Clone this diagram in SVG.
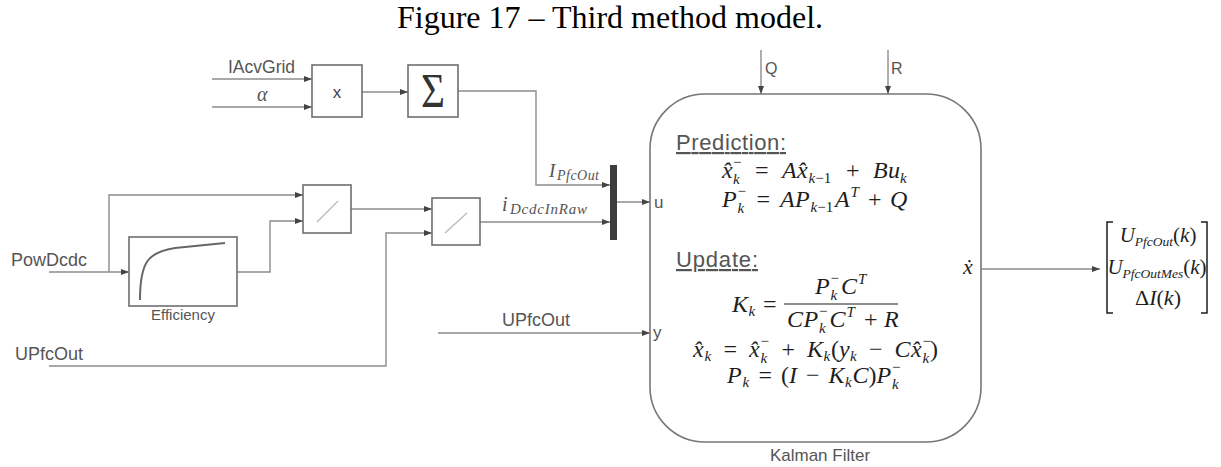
<svg xmlns="http://www.w3.org/2000/svg" width="1221" height="467" viewBox="0 0 1221 467">
  <style>
    .wire { fill: none; stroke: #8c8c8c; stroke-width: 1.4; marker-end: url(#arr); }
    .box { fill: #ffffff; stroke: #6e6e6e; stroke-width: 1.6; }
    .diag { stroke: #bdbdbd; stroke-width: 1.5; }
    .lbl { font-family: "Liberation Sans", Arial, sans-serif; fill: #555555; }
    .m { font-family: "Liberation Serif", "Times New Roman", serif; font-style: italic; fill: #1e1e1e; font-size: 24px; }
    .u { font-style: normal; }
    .s { font-size: 15px; }
    .title { font-family: "Liberation Serif", "Times New Roman", serif; font-size: 32px; fill: #000; }
  </style>
  <defs>
    <marker id="arr" viewBox="0 0 8 6" refX="8" refY="3" markerWidth="8" markerHeight="6" orient="auto" markerUnits="userSpaceOnUse">
      <path d="M0,0 L8,3 L0,6 z" fill="#444"/>
    </marker>
  </defs>

  <text class="title" x="610" y="28" text-anchor="middle">Figure 17 – Third method model.</text>

  <!-- signal lines -->
  <g id="connectors">
    <path class="wire" d="M212,79 H312"/>
    <path class="wire" d="M212,107 H312"/>
    <path class="wire" d="M362,92 H408"/>
    <path class="wire" d="M458,91 H536 V185 H610"/>
    <path class="wire" d="M49,272 H129"/>
    <path class="wire" d="M109,272 V195 H303"/>
    <path class="wire" d="M237,272 H270 V221 H303"/>
    <path class="wire" d="M351,209 H432"/>
    <path class="wire" d="M49,366 H386 V233 H432"/>
    <path class="wire" d="M480,222 H610"/>
    <path class="wire" d="M617,202 H650"/>
    <path class="wire" d="M438,333 H650"/>
    <path class="wire" d="M761,50 V94"/>
    <path class="wire" d="M888,50 V94"/>
    <path class="wire" d="M981,269 H1100"/>
  </g>

  <!-- input labels -->
  <g id="inputs">
    <text class="lbl" x="228" y="73" style="font-size:17.5px">IAcvGrid</text>
    <text x="257" y="101" style="font-family:'Liberation Serif',serif;font-style:italic;font-size:20px" fill="#555">α</text>
    <text class="lbl" x="11" y="266" style="font-size:18px">PowDcdc</text>
    <text class="lbl" x="15" y="360" style="font-size:18px">UPfcOut</text>
    <text class="lbl" x="502" y="326" style="font-size:18px">UPfcOut</text>
    <text class="lbl" x="765" y="74" style="font-size:16px">Q</text>
    <text class="lbl" x="891" y="74" style="font-size:16px">R</text>
  </g>

  <g id="mult">
    <rect class="box" x="312" y="65" width="50" height="52"/>
    <text class="lbl" x="337" y="98" text-anchor="middle" style="font-size:17px;fill:#444">x</text>
  </g>

  <g id="sum">
    <rect class="box" x="408" y="65" width="50" height="52"/>
    <text x="421" y="107" style="font-family:'Liberation Serif',serif;font-size:49px" fill="#333" textLength="24" lengthAdjust="spacingAndGlyphs">Σ</text>
  </g>

  <g id="efficiency">
    <rect class="box" x="129" y="237" width="108" height="69"/>
    <path d="M140,300 C140,262 148,252 175,248 L225,243" fill="none" stroke="#666" stroke-width="2"/>
    <text class="lbl" x="183" y="320" text-anchor="middle" style="font-size:15px">Efficiency</text>
  </g>

  <g id="divide1">
    <rect class="box" x="303" y="185" width="48" height="48"/>
    <line class="diag" x1="317" y1="222" x2="338" y2="201"/>
  </g>

  <g id="divide2">
    <rect class="box" x="432" y="198" width="48" height="47"/>
    <line class="diag" x1="445" y1="233" x2="467" y2="213"/>
  </g>

  <g id="mux">
    <rect x="610" y="165" width="7" height="75" fill="#3c3c3c"/>
    <text class="m" x="549" y="177" style="font-size:19px;fill:#555">I</text>
    <text class="m" x="557" y="180" style="font-size:14px;fill:#555" textLength="42">PfcOut</text>
    <text class="m" x="502" y="211" style="font-size:20px;fill:#555">i</text>
    <text class="m" x="510" y="214" style="font-size:15px;fill:#555" textLength="77">DcdcInRaw</text>
  </g>

  <g id="kalman">
    <rect x="650" y="94" width="331" height="348" rx="55" ry="55" fill="#fff" stroke="#777" stroke-width="1.6"/>
    <text class="lbl" x="654" y="208" style="font-size:17px">u</text>
    <text class="lbl" x="653" y="338" style="font-size:17px">y</text>
    <text class="m" x="963" y="274" style="font-size:22px">ẋ</text>

    <text class="lbl" x="676" y="150" style="font-size:22px" textLength="110" text-decoration="underline">Prediction:</text>

    <!-- x^-_k = A x_{k-1} + B u_k -->
    <text class="m" y="178">
      <tspan x="722">x̂</tspan>
      <tspan x="733" y="167" class="s u">−</tspan>
      <tspan x="733" y="184" class="s">k</tspan>
      <tspan x="755" y="178" class="u">=</tspan>
      <tspan x="782">A</tspan>
      <tspan x="797">x̂</tspan>
      <tspan x="808.5" y="183" class="s">k</tspan><tspan class="s u">−1</tspan>
      <tspan x="846" y="178" class="u">+</tspan>
      <tspan x="873">B</tspan>
      <tspan x="888">u</tspan>
      <tspan x="900" y="183" class="s">k</tspan>
    </text>

    <!-- P^-_k = A P_{k-1} A^T + Q -->
    <text class="m" y="207">
      <tspan x="722">P</tspan>
      <tspan x="737.5" y="196" class="s u">−</tspan>
      <tspan x="737.5" y="213" class="s">k</tspan>
      <tspan x="756.5" y="207" class="u">=</tspan>
      <tspan x="780">A</tspan>
      <tspan x="795">P</tspan>
      <tspan x="810.5" y="212" class="s">k</tspan><tspan class="s u">−1</tspan>
      <tspan x="835" y="207">A</tspan>
      <tspan x="850.5" y="197" class="s">T</tspan>
      <tspan x="868" y="207" class="u">+</tspan>
      <tspan x="890">Q</tspan>
    </text>

    <text class="lbl" x="676" y="267" style="font-size:22px" textLength="82" text-decoration="underline">Update:</text>

    <!-- K_k = P^-_k C^T / (C P^-_k C^T + R) -->
    <text class="m" y="312">
      <tspan x="732">K</tspan>
      <tspan x="748.5" y="316" class="s">k</tspan>
      <tspan x="763" y="312" class="u">=</tspan>
    </text>
    <line x1="784" y1="304" x2="898" y2="304" stroke="#1e1e1e" stroke-width="1.2"/>
    <text class="m" y="294">
      <tspan x="815">P</tspan>
      <tspan x="830.5" y="283" class="s u">−</tspan>
      <tspan x="830.5" y="300" class="s">k</tspan>
      <tspan x="841" y="294">C</tspan>
      <tspan x="858" y="284" class="s">T</tspan>
    </text>
    <text class="m" y="327">
      <tspan x="787">C</tspan>
      <tspan x="803.5">P</tspan>
      <tspan x="819" y="316" class="s u">−</tspan>
      <tspan x="819" y="333" class="s">k</tspan>
      <tspan x="829.5" y="327">C</tspan>
      <tspan x="846.5" y="317" class="s">T</tspan>
      <tspan x="864" y="327" class="u">+</tspan>
      <tspan x="884">R</tspan>
    </text>

    <!-- x_k = x^-_k + K_k (y_k - C x^-_k) -->
    <text class="m" y="357">
      <tspan x="693">x̂</tspan>
      <tspan x="704.5" y="361" class="s">k</tspan>
      <tspan x="723.5" y="357" class="u">=</tspan>
      <tspan x="749">x̂</tspan>
      <tspan x="760.5" y="346" class="s u">−</tspan>
      <tspan x="760.5" y="363" class="s">k</tspan>
      <tspan x="781.5" y="357" class="u">+</tspan>
      <tspan x="807">K</tspan>
      <tspan x="823.5" y="361" class="s">k</tspan>
      <tspan x="831" y="357" class="u">(</tspan>
      <tspan x="839">y</tspan>
      <tspan x="850" y="361" class="s">k</tspan>
      <tspan x="869" y="357" class="u">−</tspan>
      <tspan x="894.5">C</tspan>
      <tspan x="911">x̂</tspan>
      <tspan x="922.5" y="346" class="s u">−</tspan>
      <tspan x="922.5" y="363" class="s">k</tspan>
      <tspan x="930" y="357" class="u">)</tspan>
    </text>

    <!-- P_k = (I - K_k C) P^-_k -->
    <text class="m" y="383">
      <tspan x="727">P</tspan>
      <tspan x="742.5" y="387" class="s">k</tspan>
      <tspan x="758.5" y="383" class="u">=</tspan>
      <tspan x="781" class="u">(</tspan>
      <tspan x="789">I</tspan>
      <tspan x="806" class="u">−</tspan>
      <tspan x="828.5">K</tspan>
      <tspan x="845" y="387" class="s">k</tspan>
      <tspan x="852.5" y="383">C</tspan>
      <tspan x="868.5" class="u">)</tspan>
      <tspan x="876.5">P</tspan>
      <tspan x="892" y="372" class="s u">−</tspan>
      <tspan x="892" y="389" class="s">k</tspan>
    </text>

    <text class="lbl" x="820" y="461" text-anchor="middle" style="font-size:17px">Kalman Filter</text>
  </g>

  <!-- state vector -->
  <g id="output">
    <path d="M1113,222 H1107 V313 H1113" fill="none" stroke="#1e1e1e" stroke-width="1.5"/>
    <path d="M1201,222 H1207 V313 H1201" fill="none" stroke="#1e1e1e" stroke-width="1.5"/>
    <text class="m" x="1158" y="242" text-anchor="middle" style="font-size:21px">U<tspan style="font-size:13.5px" dy="4">PfcOut</tspan><tspan class="u" dy="-4">(</tspan>k<tspan class="u">)</tspan></text>
    <text class="m" x="1157" y="274" text-anchor="middle" style="font-size:21px">U<tspan style="font-size:13.5px" dy="4">PfcOutMes</tspan><tspan class="u" dy="-4">(</tspan>k<tspan class="u">)</tspan></text>
    <text class="m" x="1158" y="305" text-anchor="middle" style="font-size:22px"><tspan class="u">Δ</tspan>I<tspan class="u">(</tspan>k<tspan class="u">)</tspan></text>
  </g>
</svg>
